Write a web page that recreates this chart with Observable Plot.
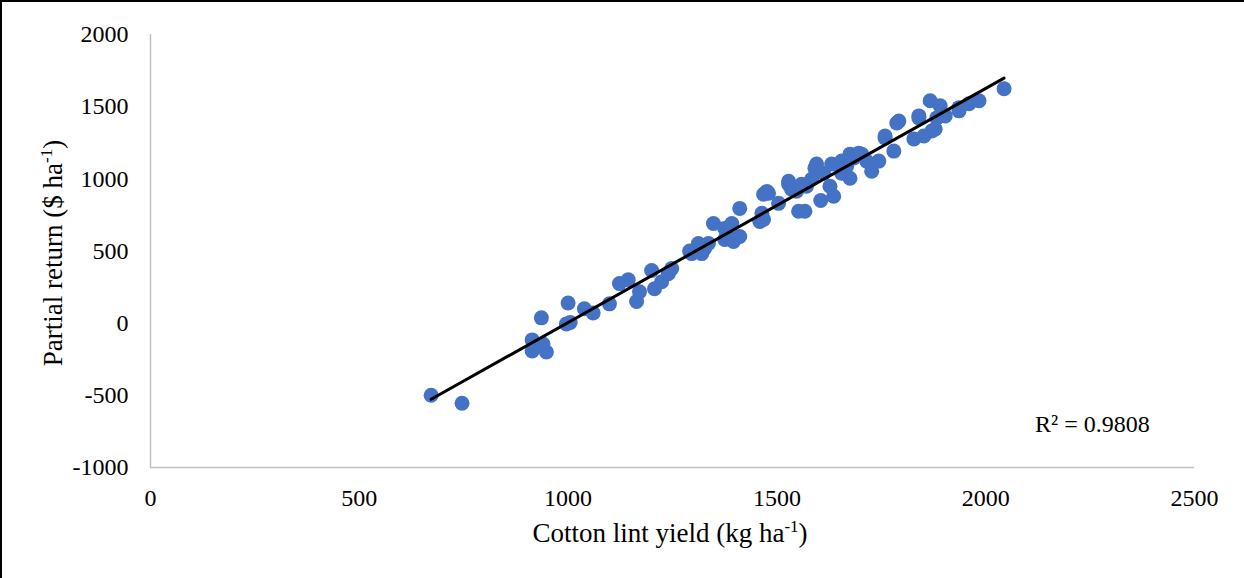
<!DOCTYPE html>
<html><head><meta charset="utf-8">
<script src="https://cdn.jsdelivr.net/npm/d3@7"></script>
<script src="https://cdn.jsdelivr.net/npm/@observablehq/plot@0.6"></script>
<style>
html,body{margin:0;padding:0;background:#fff;}
#wrap{width:1244px;height:578px;box-sizing:border-box;border-left:2px solid #000;border-top:2px solid #000;overflow:hidden;background:#fff;}
</style></head><body><div id="wrap"></div>
<script>
const yieldKg = [672,746,914,914,936,948,940,1000,996,1005,1039,1060,1099,1123,1144,1164,1171,1207,1200,1224,1240,1248,1291,1296,1312,1320,1327,1336,1348,1375,1375,1380,1392,1396,1411,1411,1459,1464,1468,1468,1476,1480,1504,1528,1528,1535,1547,1552,1567,1559,1571,1583,1591,1595,1605,1612,1627,1631,1636,1655,1655,1667,1675,1675,1684,1696,1703,1715,1727,1744,1759,1759,1780,1787,1792,1828,1840,1840,1852,1867,1871,1879,1883,1891,1903,1936,1936,1960,1984,2044];
const partialReturn = [-499,-555,-116,-193,37,-200,-144,140,-5,5,100,70,134,274,300,150,218,238,365,287,343,378,500,482,552,482,517,552,691,656,580,614,691,566,600,795,705,761,719,893,913,900,830,963,983,928,914,775,775,962,949,997,1074,1102,850,1039,949,1102,879,1039,1123,1088,1171,1004,1144,1178,1171,1123,1053,1123,1283,1297,1192,1387,1400,1276,1422,1436,1297,1541,1331,1345,1422,1506,1436,1471,1493,1520,1541,1624];
const xTicks = [0,500,1000,1500,2000,2500];
const yTicks = [-1000,-500,0,500,1000,1500,2000];
const r2Note = [{x:2118, y:-700, t:"R² = 0.9808"}];
const xTitle = ["Cotton lint yield (kg ha", "-1", ")"];
const yTitle = ["Partial return ($ ha", "-1", ")"];

const data = yieldKg.map((x,i)=>({x, y: partialReturn[i]}));
const font = "'Liberation Serif','Times New Roman',serif";
const W = 1242, H = 576;
const chart = Plot.plot({
  width: W, height: H,
  marginLeft: 148, marginRight: 50, marginTop: 32, marginBottom: 111,
  style: {fontFamily: font, fontSize: "24px", color: "#000", background: "#fff", overflow: "visible"},
  x: {domain: [0, 2500], ticks: xTicks, tickSize: 0, tickPadding: 21, label: null, tickFormat: d => String(d)},
  y: {domain: [-1000, 2000], ticks: yTicks, tickSize: 0, tickPadding: 22, label: null, tickFormat: d => String(d)},
  marks: [
    Plot.ruleY([-1000], {stroke: "#bfbfbf", strokeWidth: 1.5}),
    Plot.ruleX([0], {stroke: "#bfbfbf", strokeWidth: 1.5}),
    Plot.dot(data, {x: "x", y: "y", r: 7.5, fill: "#4472C4"}),
    Plot.linearRegressionY(data, {x: "x", y: "y", stroke: "#000", strokeWidth: 3, ci: 0}),
    Plot.text(r2Note, {x: "x", y: "y", text: "t", textAnchor: "start", fontSize: 24, fill: "#000"})
  ]
});
document.getElementById("wrap").appendChild(chart);
const svg = d3.select(chart);
function title(parts, x, y, rotate) {
  const t = svg.append("text")
    .attr("text-anchor", "middle")
    .attr("font-family", font).attr("font-size", 27).attr("fill", "#000")
    .attr("transform", `translate(${x},${y})` + (rotate ? " rotate(-90)" : ""));
  t.append("tspan").text(parts[0]);
  t.append("tspan").attr("font-size", 17).attr("dy", -10).text(parts[1]);
  t.append("tspan").attr("dy", 10).text(parts[2]);
}
title(xTitle, 668, 540, false);
title(yTitle, 60, 251, true);
</script></body></html>
